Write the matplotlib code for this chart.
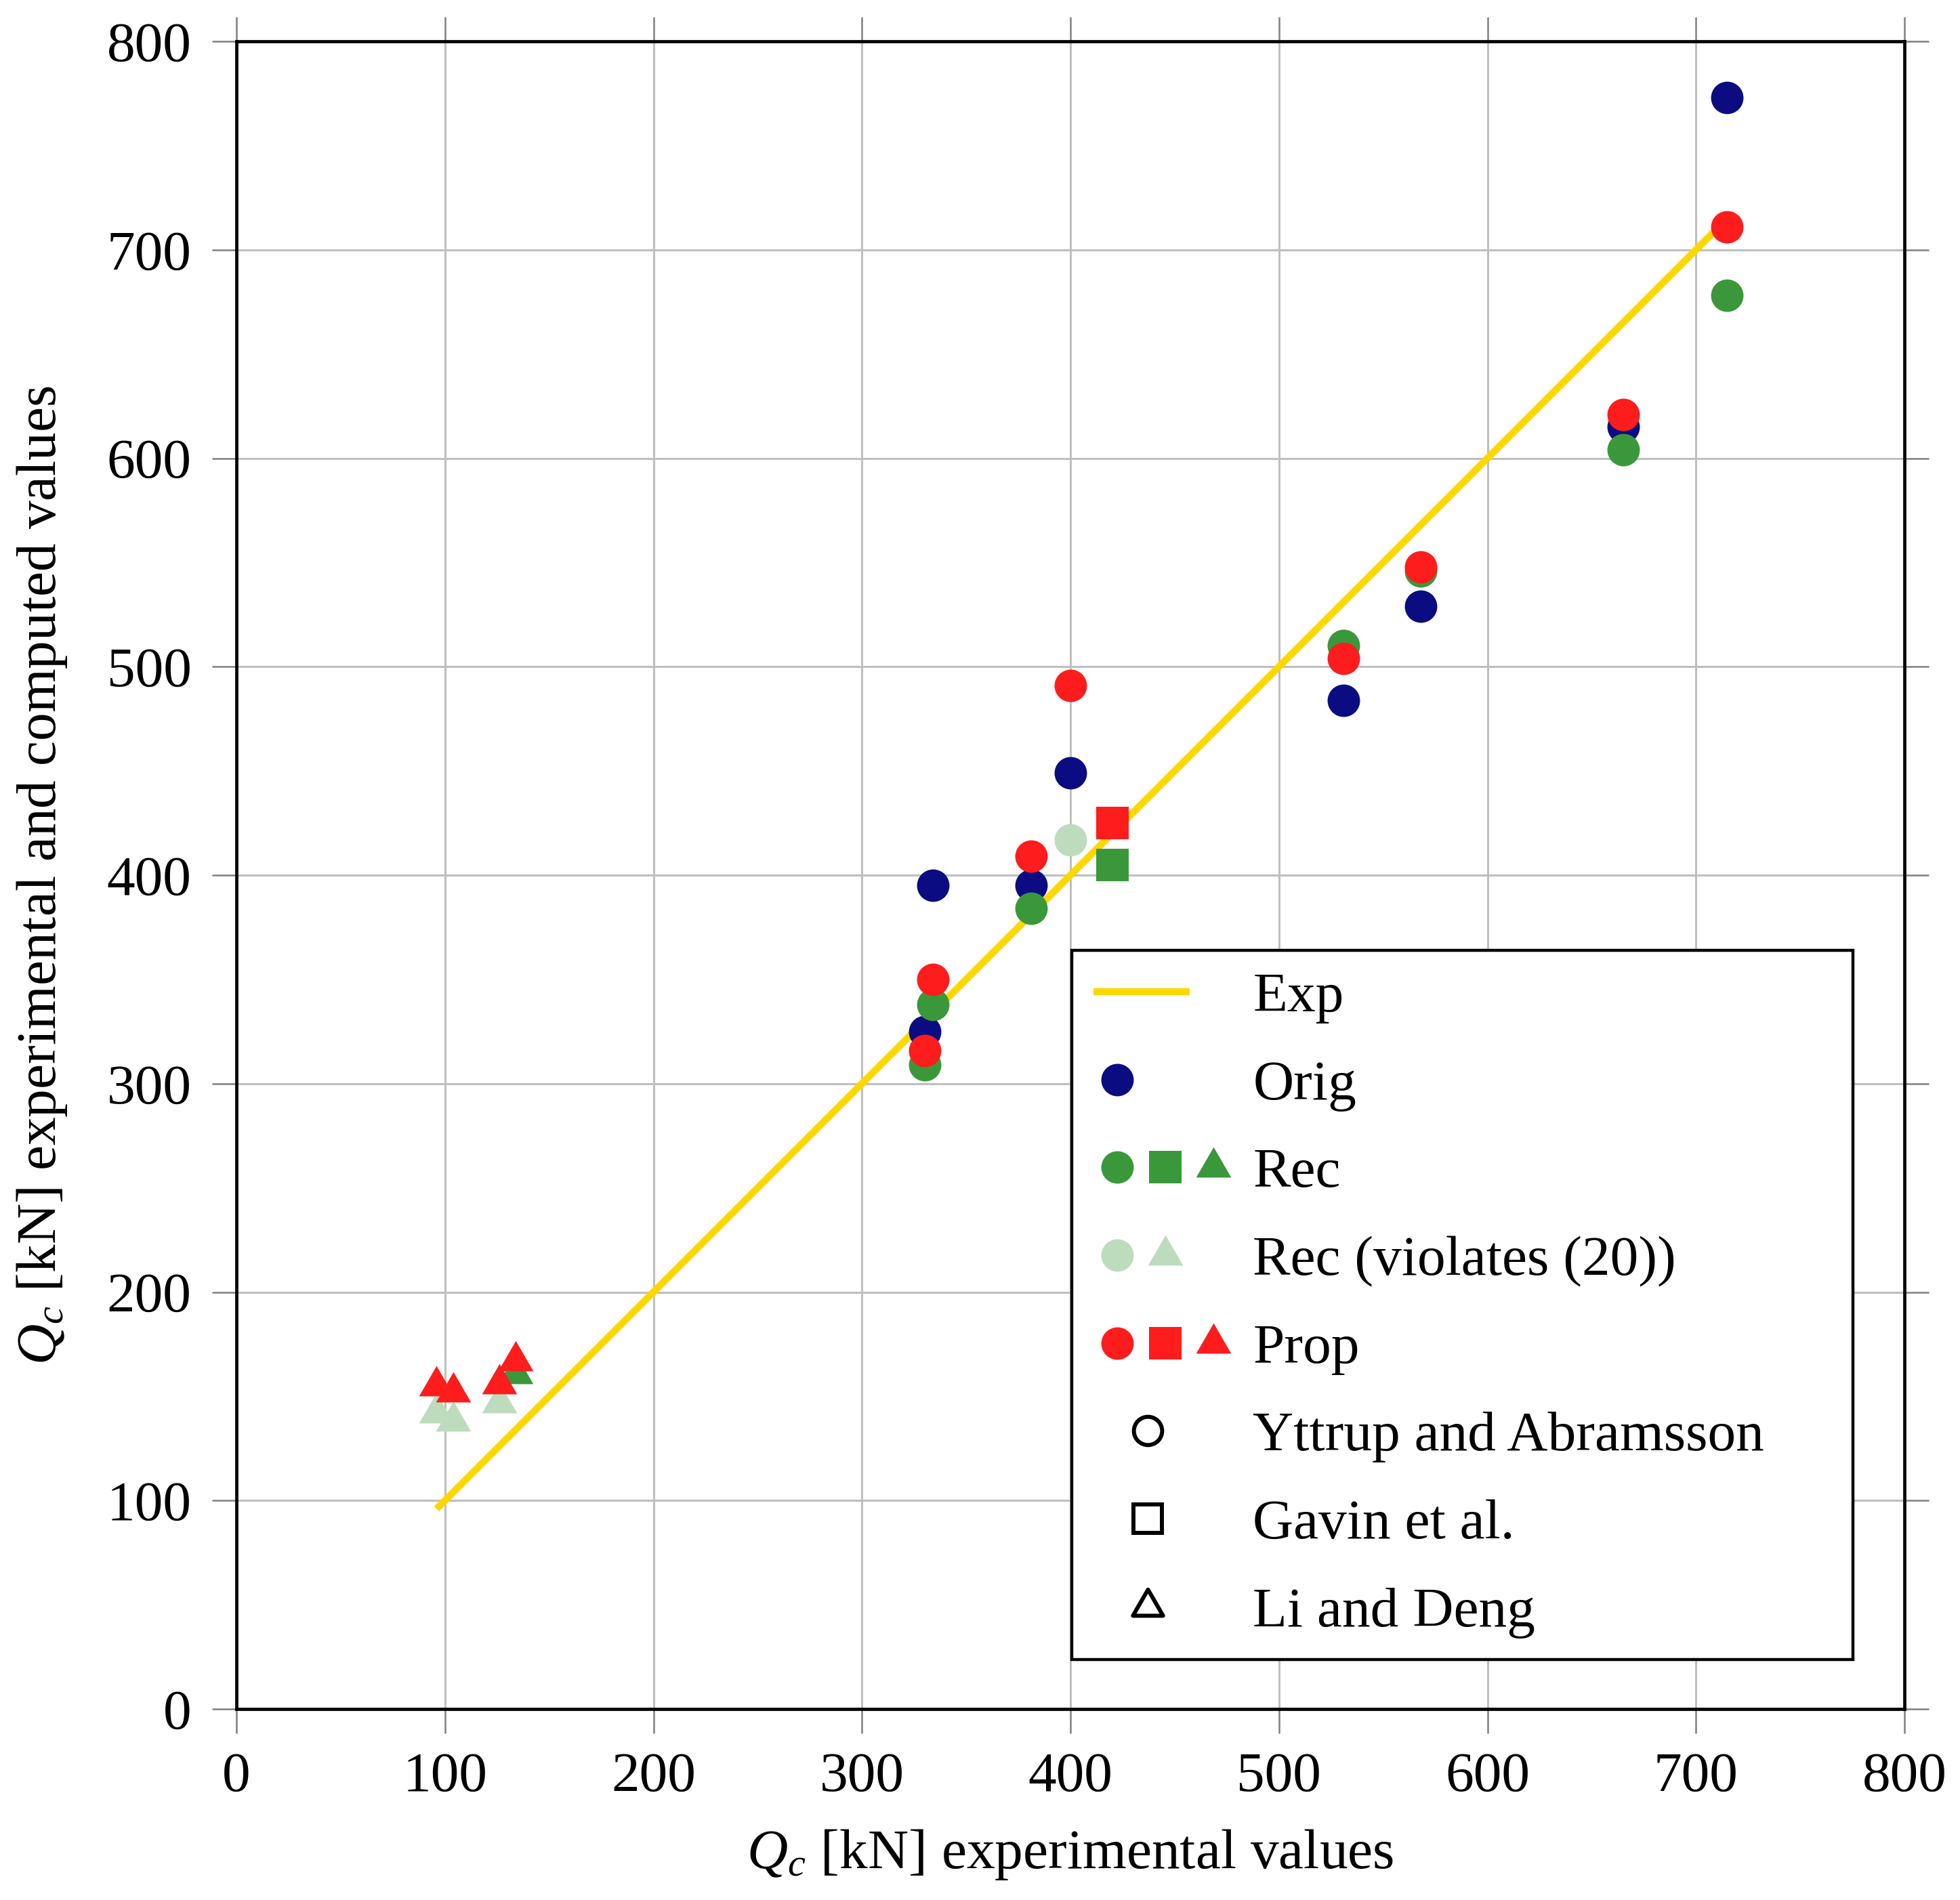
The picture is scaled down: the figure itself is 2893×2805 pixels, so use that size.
import matplotlib
matplotlib.use('Agg')
import matplotlib.pyplot as plt
from matplotlib.lines import Line2D
from matplotlib.path import Path
from matplotlib.legend_handler import HandlerTuple

plt.rcParams['font.family'] = ['Liberation Serif', 'DejaVu Serif']
plt.rcParams['mathtext.fontset'] = 'custom'
plt.rcParams['mathtext.rm'] = 'Liberation Serif'
plt.rcParams['mathtext.it'] = 'Liberation Serif:italic'

# experimental Q_c values [kN] for the circle (Yttrup and Abramsson) tests
circ_x = [330, 334, 381, 400, 531, 568, 665, 715]
orig_y = [325, 395, 395, 449, 484, 529, 615, 773]
rec_circ_x = [330, 334, 381, 531, 568, 665, 715]
rec_circ_y = [309, 338, 384, 510, 546, 604, 678]
recv_circ_x = [400]
recv_circ_y = [417]
prop_circ_y = [316, 350, 409, 491, 504, 548, 621, 711]

# square (Gavin et al.)
sq_x = [420]
rec_sq_y = [405]
prop_sq_y = [425]

# triangle (Li and Deng)
tri_x = [96, 104, 126, 134]
rec_tri_x = [134]
rec_tri_y = [161]
recv_tri_x = [96, 104, 126]
recv_tri_y = [142, 138, 147]
prop_tri_y = [155, 152, 156, 167]

exp_x = sorted(tri_x + circ_x + sq_x)

ticks = [0, 100, 200, 300, 400, 500, 600, 700, 800]

c_orig = '#0c0c82'
c_rec = '#3a983a'
c_recv = '#bddcbd'
c_prop = '#ff1c1c'
c_exp = '#ffd700'

# equilateral triangle, centred on its circumcentre
tri = Path([(0, 1), (-0.866, -0.5), (0.866, -0.5), (0, 1)], closed=True)

ms_c = 34.5
ms_t = 43
fs = 60

fig = plt.figure(figsize=(28.93, 28.05), dpi=100)
ax = fig.add_axes([0.12064, 0.10053, 0.85102, 0.87772])

ax.plot(exp_x, exp_x, color=c_exp, lw=7.5, zorder=2, solid_capstyle='butt')

kw = dict(linestyle='none', markeredgewidth=0, zorder=3)
ax.plot(circ_x, orig_y, marker='o', ms=ms_c, color=c_orig, **kw)
ax.plot(rec_circ_x, rec_circ_y, marker='o', ms=ms_c, color=c_rec, **kw)
ax.plot(sq_x, rec_sq_y, marker='s', ms=ms_c, color=c_rec, **kw)
ax.plot(rec_tri_x, rec_tri_y, marker=tri, ms=ms_t, color=c_rec, **kw)
ax.plot(recv_circ_x, recv_circ_y, marker='o', ms=ms_c, color=c_recv, **kw)
ax.plot(recv_tri_x, recv_tri_y, marker=tri, ms=ms_t, color=c_recv, **kw)
ax.plot(circ_x, prop_circ_y, marker='o', ms=ms_c, color=c_prop, **kw)
ax.plot(sq_x, prop_sq_y, marker='s', ms=ms_c, color=c_prop, **kw)
ax.plot(tri_x, prop_tri_y, marker=tri, ms=ms_t, color=c_prop, **kw)

ax.set_xlim(0, 800)
ax.set_ylim(0, 800)
ax.set_xticks(ticks)
ax.set_yticks(ticks)
ax.grid(True, color='#bfbfbf', lw=2.2, zorder=0)
ax.set_axisbelow(True)
for s in ax.spines.values():
    s.set_linewidth(3.4)
    s.set_color('black')
    s.set_zorder(5)
ax.tick_params(which='both', direction='out', length=25.9, width=1.8,
               color='#808080', top=True, right=True, labelsize=fs)
ax.tick_params(axis='x', pad=20)
ax.tick_params(axis='y', pad=22)

ax.set_xlabel(r'$Q_c$ [kN] experimental values', fontsize=fs, labelpad=26)
ax.set_ylabel(r'$Q_c$ [kN] experimental and computed values', fontsize=fs, labelpad=40)

# legend handles
def mk(marker, color, ms, filled=True):
    if filled:
        return Line2D([], [], ls='none', marker=marker, ms=ms, color=color, markeredgewidth=0)
    return Line2D([], [], ls='none', marker=marker, ms=ms, markerfacecolor='white',
                  markeredgecolor='black', markeredgewidth=4.3)

blank = Line2D([], [], ls='none')
exp_h = Line2D([], [], color=c_exp, lw=7.5, solid_capstyle='butt')
handles = [
    (exp_h, exp_h, blank),
    (mk('o', c_orig, ms_c), blank, blank),
    (mk('o', c_rec, ms_c), mk('s', c_rec, ms_c), mk(tri, c_rec, ms_t)),
    (mk('o', c_recv, ms_c), mk(tri, c_recv, ms_t), blank),
    (mk('o', c_prop, ms_c), mk('s', c_prop, ms_c), mk(tri, c_prop, ms_t)),
    (blank, mk('o', None, 30, False), blank, blank),
    (blank, mk('s', None, 30, False), blank, blank),
    (blank, mk(tri, None, 37, False), blank, blank),
]
labels = ['Exp', 'Orig', 'Rec', 'Rec (violates (20))', 'Prop',
          'Yttrup and Abramsson', 'Gavin et al.', 'Li and Deng']

leg = ax.legend(handles, labels, handler_map={tuple: HandlerTuple(ndivide=None, pad=0)},
                loc='upper left', bbox_to_anchor=(0.5008, 0.0309, 0.4683, 0.424),
                mode='expand', borderaxespad=0,
                fontsize=fs, frameon=True, fancybox=False, framealpha=1,
                edgecolor='black', handlelength=2.56, handletextpad=0.27,
                borderpad=0.38, labelspacing=0.64)
leg.get_frame().set_linewidth(3.2)
leg.set_zorder(6)

fig.savefig('out.png', dpi=100)
